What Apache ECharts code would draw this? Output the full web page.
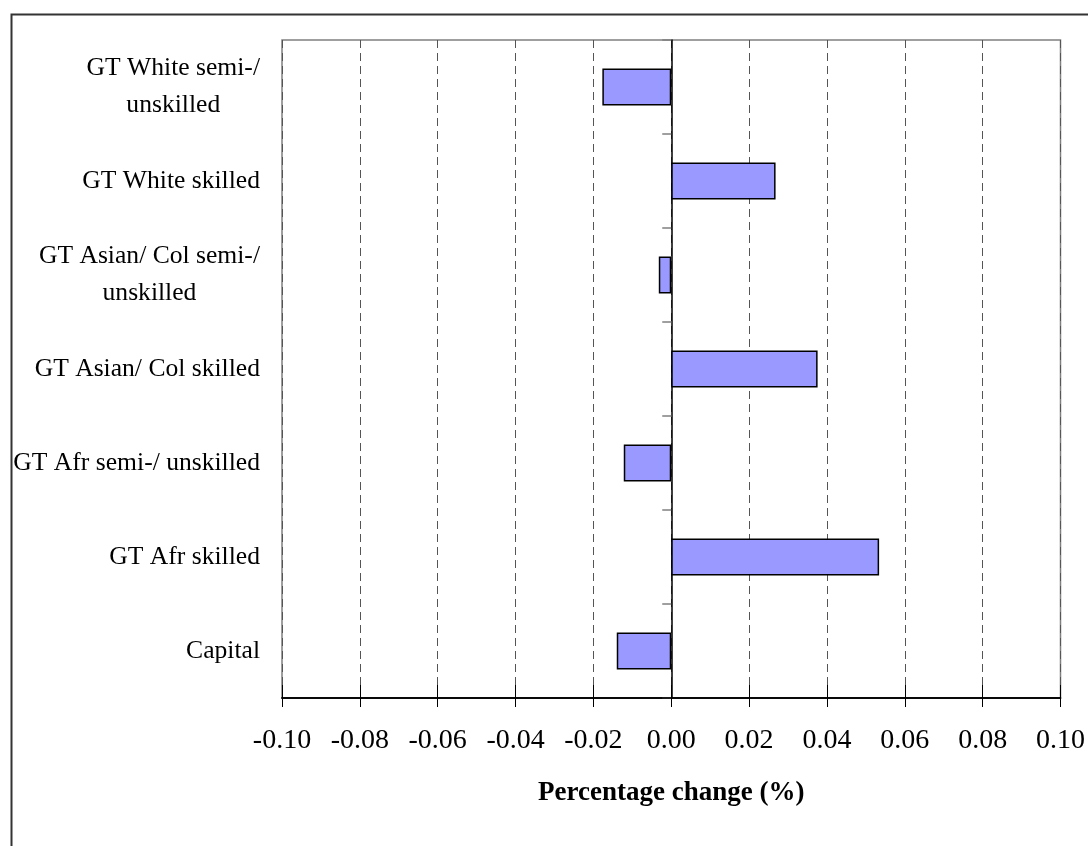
<!DOCTYPE html>
<html>
<head>
<meta charset="utf-8">
<script src="https://cdn.jsdelivr.net/npm/echarts@6/dist/echarts.min.js"></script>
<style>html,body{margin:0;padding:0;background:#fff}#c{width:1088px;height:846px}</style>
</head>
<body>
<div id="c"></div>
<script>
const categories = [
  "GT White semi-/\nunskilled",
  "GT White skilled",
  "GT Asian/ Col semi-/\nunskilled",
  "GT Asian/ Col skilled",
  "GT Afr semi-/ unskilled",
  "GT Afr skilled",
  "Capital"
];
const values = [-0.0177, 0.0268, -0.0032, 0.0376, -0.0122, 0.0534, -0.0140];
const xTicks = { min: -0.10, max: 0.10, interval: 0.02 };
const xTitle = "Percentage change (%)";

const serif = "'Liberation Serif', 'Times New Roman', serif";
const chart = echarts.init(document.getElementById('c'), null, { renderer: 'canvas' });
chart.setOption({
  animation: false,
  backgroundColor: '#fff',
  grid: { left: 282, right: 27, top: 40, bottom: 148, show: true, borderColor: '#808080', borderWidth: 1.5, backgroundColor: 'transparent' },
  graphic: [{
    type: 'rect', left: 9, top: 12, shape: { x: 0, y: 0, width: 1200, height: 1000 },
    style: { fill: 'none', stroke: '#333', lineWidth: 2 }, silent: true, z: 100
  }],
  xAxis: [{
    type: 'value', min: xTicks.min, max: xTicks.max, interval: xTicks.interval,
    position: 'bottom',
    axisLine: { show: true, onZero: false, lineStyle: { color: '#000', width: 1.5 } },
    axisTick: { show: true, inside: false, length: 9, lineStyle: { color: '#000', width: 1 } },
    axisLabel: { margin: 29, color: '#000', fontFamily: serif, fontSize: 28, formatter: v => v.toFixed(2) },
    splitLine: { show: true, lineStyle: { color: '#555', type: [8, 5], width: 1 } },
    name: xTitle, nameLocation: 'middle', nameGap: 82,
    nameTextStyle: { color: '#000', fontFamily: serif, fontSize: 27, fontWeight: 'bold' }
  }, {
    type: 'value', min: xTicks.min, max: xTicks.max, interval: xTicks.interval,
    position: 'bottom',
    axisLine: { show: true, onZero: false, lineStyle: { color: '#000', width: 1.5 } },
    axisTick: { show: true, inside: true, length: 13, lineStyle: { color: '#000', width: 1 } },
    axisLabel: { show: false },
    splitLine: { show: false },
    z: 5
  }],
  yAxis: [{
    type: 'category', data: categories, inverse: true, position: 'left',
    axisLine: { show: false, onZero: false },
    axisTick: { show: false },
    axisLabel: {
      margin: 22, color: '#000', fontFamily: serif, fontSize: 25.6,
      formatter: v => v.split('\n').map(l => '{c|' + l + '}').join('\n'),
      rich: { c: { align: 'center', fontFamily: serif, fontSize: 25.6, lineHeight: 37, color: '#000' } }
    },
    splitLine: { show: false }
  }, {
    type: 'category', data: categories, inverse: true, position: 'left',
    axisLine: { show: true, onZero: true, lineStyle: { color: '#000', width: 1.5 } },
    axisTick: { show: true, inside: false, length: 9, lineStyle: { color: '#808080', width: 1.5 } },
    axisLabel: { show: false },
    splitLine: { show: false }
  }],
  series: [{
    type: 'bar', data: values, xAxisIndex: 0, yAxisIndex: 0, barWidth: 37,
    itemStyle: { color: '#9999FF', borderColor: '#000', borderWidth: 1.5 },
    z: 3
  }]
});
</script>
</body>
</html>
